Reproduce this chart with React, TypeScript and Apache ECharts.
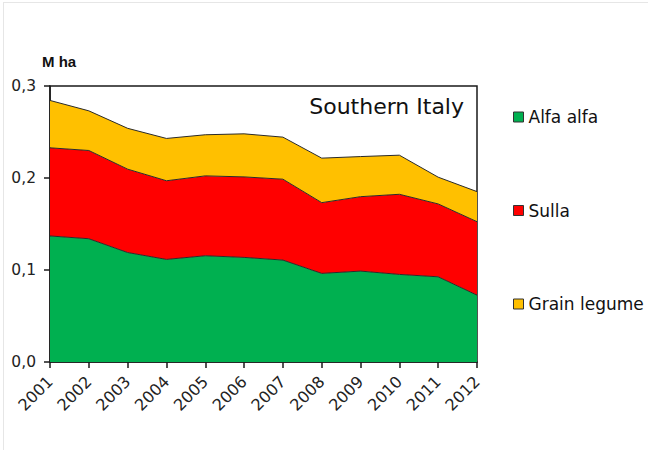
import * as echarts from "echarts"
import { useEffect, useRef } from "react"

const years = ["2001", "2002", "2003", "2004", "2005", "2006", "2007", "2008", "2009", "2010", "2011", "2012"]

// M ha
const alfaAlfa = [0.137, 0.134, 0.119, 0.1115, 0.1155, 0.1137, 0.1108, 0.0963, 0.0988, 0.0952, 0.0926, 0.0727]
const sulla = [0.0958, 0.0959, 0.0906, 0.0855, 0.0868, 0.0875, 0.0879, 0.0769, 0.0809, 0.0871, 0.0792, 0.0798]
const grainLegume = [0.0515, 0.0431, 0.0444, 0.046, 0.0447, 0.0468, 0.0457, 0.0484, 0.0436, 0.0425, 0.0291, 0.0327]

const seriesNames = ["Alfa alfa", "Sulla", "Grain legume"]
const colors = ["#00b050", "#ff0000", "#ffc000"]

const FONT = "DejaVu Sans"

export default function App() {
  const chartRef = useRef<HTMLDivElement>(null)

  useEffect(() => {
    if (!chartRef.current) return
    const chart = echarts.init(chartRef.current, undefined, { renderer: "svg" })

    const values = [alfaAlfa, sulla, grainLegume]

    const series: any[] = seriesNames.map((name, i) => ({
      name,
      type: "line",
      stack: "total",
      data: values[i],
      symbol: "none",
      lineStyle: { color: "#2a2a2a", width: 1 },
      itemStyle: { color: colors[i] },
      areaStyle: { color: colors[i], opacity: 1 },
      z: 2,
    }))

    const option: echarts.EChartsOption = {
      animation: false,
      backgroundColor: "#fff",
      grid: {
        left: 50,
        right: 171,
        top: 86,
        bottom: 88,
        show: true,
        borderColor: "#1a1a1a",
        borderWidth: 1.5,
        backgroundColor: "transparent",
      },
      legend: {
        orient: "vertical",
        left: 513,
        top: 107,
        padding: 0,
        itemWidth: 10,
        itemHeight: 10,
        itemGap: 73.5,
        textStyle: { fontFamily: FONT, fontSize: 17, color: "#111", lineHeight: 20 },
        data: seriesNames.map((name, i) => ({
          name,
          icon: "rect",
          itemStyle: { color: colors[i], borderColor: "#333", borderWidth: 1 },
        })),
      },
      xAxis: {
        type: "category",
        boundaryGap: false,
        data: years,
        axisLine: { show: true, lineStyle: { color: "#1a1a1a", width: 1.5 } },
        axisTick: { show: true, length: 6, lineStyle: { color: "#1a1a1a", width: 1.5 } },
        axisLabel: {
          rotate: 45,
          margin: 17,
          fontFamily: FONT,
          fontSize: 16,
          color: "#222",
        },
        splitLine: { show: false },
      },
      yAxis: {
        type: "value",
        min: 0,
        max: 0.3,
        interval: 0.1,
        axisLine: { show: true, lineStyle: { color: "#1a1a1a", width: 1.5 } },
        axisTick: { show: true, length: 6, lineStyle: { color: "#1a1a1a", width: 1.5 } },
        axisLabel: {
          margin: 14,
          fontFamily: FONT,
          fontSize: 15.5,
          color: "#222",
          formatter: (v: number) => v.toFixed(1).replace(".", ","),
        },
        splitLine: { show: false },
      },
      graphic: [
        {
          type: "line",
          shape: { x1: 3.5, y1: 2, x2: 3.5, y2: 450 },
          style: { stroke: "#e6e6e6", lineWidth: 1 },
        },
        {
          type: "line",
          shape: { x1: 3, y1: 2.5, x2: 648, y2: 2.5 },
          style: { stroke: "#e6e6e6", lineWidth: 1 },
        },
        {
          type: "text",
          left: 42,
          top: 54,
          style: {
            text: "M ha",
            fontFamily: "Liberation Sans Narrow, Liberation Sans, sans-serif",
            fontSize: 15,
            fontWeight: "bold",
            fill: "#111",
          },
        },
        {
          type: "text",
          x: 464,
          y: 106,
          z: 10,
          style: {
            text: "Southern Italy",
            fontFamily: FONT,
            fontSize: 22,
            fill: "#111",
            align: "right",
            verticalAlign: "middle",
          },
        },
      ],
      series,
    }

    chart.setOption(option)
    return () => chart.dispose()
  }, [])

  return <div ref={chartRef} style={{ position: "absolute", left: 0, top: 0, width: 648, height: 450 }} />
}
